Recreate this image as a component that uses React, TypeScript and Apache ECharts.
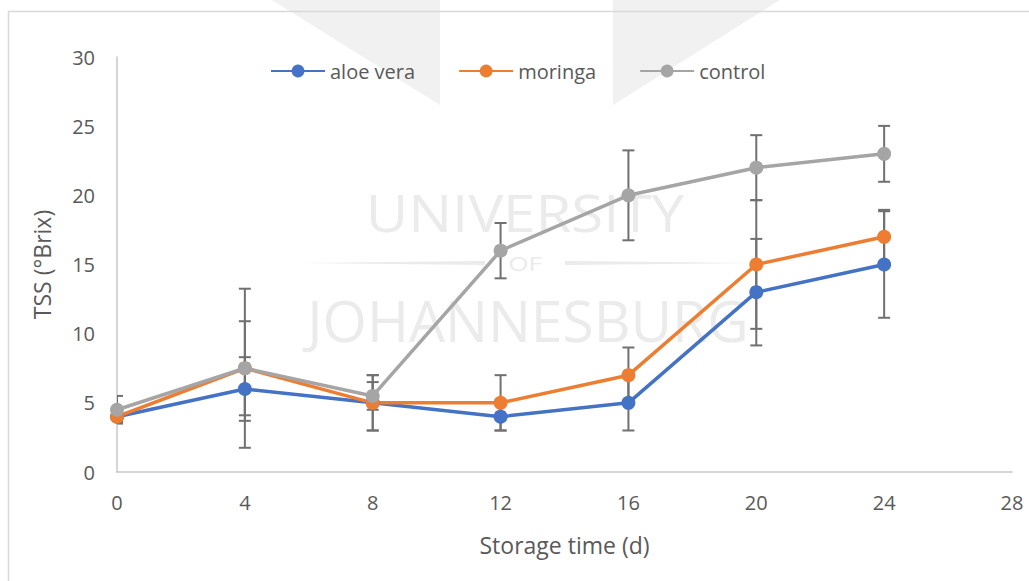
import React, { useEffect, useRef } from "react";
import * as echarts from "echarts";

const days = [0, 4, 8, 12, 16, 20, 24];
const aloeVera = [4, 6, 5, 4, 5, 13, 15];
const aloeVeraErr = [0.4, 2.3, 2, 1, 2, 3.85, 3.85];
const moringa = [4, 7.5, 5, 5, 7, 15, 17];
const moringaErr = [0.4, 3.4, 2, 2, 2, 4.65, 1.95];
const control = [4.5, 7.5, 5.5, 16, 20, 22, 23];
const controlErr = [1, 5.75, 1, 2, 3.25, 2.35, 2.02];

const xTicks = { min: 0, max: 28, interval: 4 };
const yTicks = { min: 0, max: 30, interval: 5 };

const FONT = "'Open Sans', 'Noto Sans', sans-serif";
const TXT = "#595959";

function errData(vals: number[], errs: number[]) {
  return days.map((d, i) => [d, vals[i] - errs[i], vals[i] + errs[i]]);
}

function errSeries(name: string, vals: number[], errs: number[]) {
  return {
    type: "custom",
    name: name + " err",
    data: errData(vals, errs),
    clip: true,
    z: 1,
    silent: true,
    encode: { x: 0, y: [1, 2] },
    renderItem: (params: any, api: any) => {
      const x = api.value(0);
      const lo = api.coord([x, api.value(1)]);
      const hi = api.coord([x, api.value(2)]);
      const hw = 6;
      const st = { stroke: "#707070", lineWidth: 2 };
      return {
        type: "group",
        children: [
          { type: "line", shape: { x1: lo[0], y1: lo[1], x2: hi[0], y2: hi[1] }, style: st },
          { type: "line", shape: { x1: lo[0] - hw, y1: lo[1], x2: lo[0] + hw, y2: lo[1] }, style: st },
          { type: "line", shape: { x1: hi[0] - hw, y1: hi[1], x2: hi[0] + hw, y2: hi[1] }, style: st },
        ],
      };
    },
  };
}

function lineSeries(name: string, vals: number[], color: string) {
  return {
    type: "line",
    name,
    data: days.map((d, i) => [d, vals[i]]),
    symbol: "circle",
    symbolSize: 14,
    z: 3,
    lineStyle: { color, width: 3.5 },
    itemStyle: { color },
  };
}

export default function App() {
  const ref = useRef<HTMLDivElement>(null);
  useEffect(() => {
    if (!ref.current) return;
    const chart = echarts.init(ref.current, undefined, { renderer: "svg" });
    const wm = "#ebebeb";
    const wing = "#f1f1f1";
    chart.setOption({
      animation: false,
      backgroundColor: "#ffffff",
      graphic: [
        {
          type: "polygon",
          z: 0,
          shape: { points: [[272, 0], [440, 0], [440, 105]] },
          style: { fill: wing },
        },
        {
          type: "polygon",
          z: 0,
          shape: { points: [[613, 0], [780, 0], [613, 105]] },
          style: { fill: wing },
        },
        {
          type: "rect",
          shape: { x: 8.5, y: 11.5, width: 1100, height: 700 },
          style: { fill: "none", stroke: "#d9d9d9", lineWidth: 1.5 },
          z: 1,
        },
        {
          type: "text",
          x: 525,
          y: 212,
          scaleX: 1.12,
          z: 1,
          style: { text: "UNIVERSITY", fill: wm, fontFamily: FONT, fontSize: 52, textAlign: "center", textVerticalAlign: "middle" },
        },
        {
          type: "text",
          x: 525,
          y: 263,
          scaleX: 1.3,
          z: 1,
          style: { text: "OF", fill: wm, fontFamily: FONT, fontSize: 20, textAlign: "center", textVerticalAlign: "middle" },
        },
        {
          type: "polygon",
          z: 1,
          shape: { points: [[300, 263], [485, 261], [485, 265]] },
          style: { fill: wm },
        },
        {
          type: "polygon",
          z: 1,
          shape: { points: [[565, 261], [760, 263], [565, 265]] },
          style: { fill: wm },
        },
        {
          type: "text",
          x: 528,
          y: 320,
          z: 1,
          style: { text: "JOHANNESBURG", fill: wm, fontFamily: FONT, fontSize: 57, textAlign: "center", textVerticalAlign: "middle" },
        },
      ],
      legend: {
        left: 265,
        top: 56,
        itemWidth: 54,
        itemHeight: 16,
        itemGap: 43,
        textStyle: { color: TXT, fontFamily: FONT, fontSize: 20, padding: [0, 0, 0, 0] },
        data: ["aloe vera", "moringa", "control"],
      },
      grid: { left: 117, right: 17, top: 57, bottom: 109 },
      xAxis: {
        type: "value",
        min: xTicks.min,
        max: xTicks.max,
        interval: xTicks.interval,
        name: "Storage time (d)",
        nameLocation: "middle",
        nameGap: 61,
        nameTextStyle: { color: TXT, fontFamily: FONT, fontSize: 23 },
        axisLine: { lineStyle: { color: "#c8c8c8", width: 1.5 } },
        axisTick: { show: false },
        splitLine: { show: false },
        axisLabel: { color: TXT, fontFamily: FONT, fontSize: 20, margin: 20 },
      },
      yAxis: {
        type: "value",
        min: yTicks.min,
        max: yTicks.max,
        interval: yTicks.interval,
        name: "TSS (°Brix)",
        nameLocation: "middle",
        nameGap: 64,
        nameTextStyle: { color: TXT, fontFamily: FONT, fontSize: 23 },
        axisLine: { show: true, lineStyle: { color: "#c8c8c8", width: 1.5 } },
        axisTick: { show: false },
        splitLine: { show: false },
        axisLabel: { color: TXT, fontFamily: FONT, fontSize: 20, margin: 22 },
      },
      series: [
        errSeries("aloe vera", aloeVera, aloeVeraErr),
        errSeries("moringa", moringa, moringaErr),
        errSeries("control", control, controlErr),
        lineSeries("aloe vera", aloeVera, "#4472C4"),
        lineSeries("moringa", moringa, "#ED7D31"),
        lineSeries("control", control, "#A5A5A5"),
      ],
    });
    return () => chart.dispose();
  }, []);
  return <div ref={ref} style={{ width: 1029, height: 581, position: "absolute", left: 0, top: 0 }} />;
}
